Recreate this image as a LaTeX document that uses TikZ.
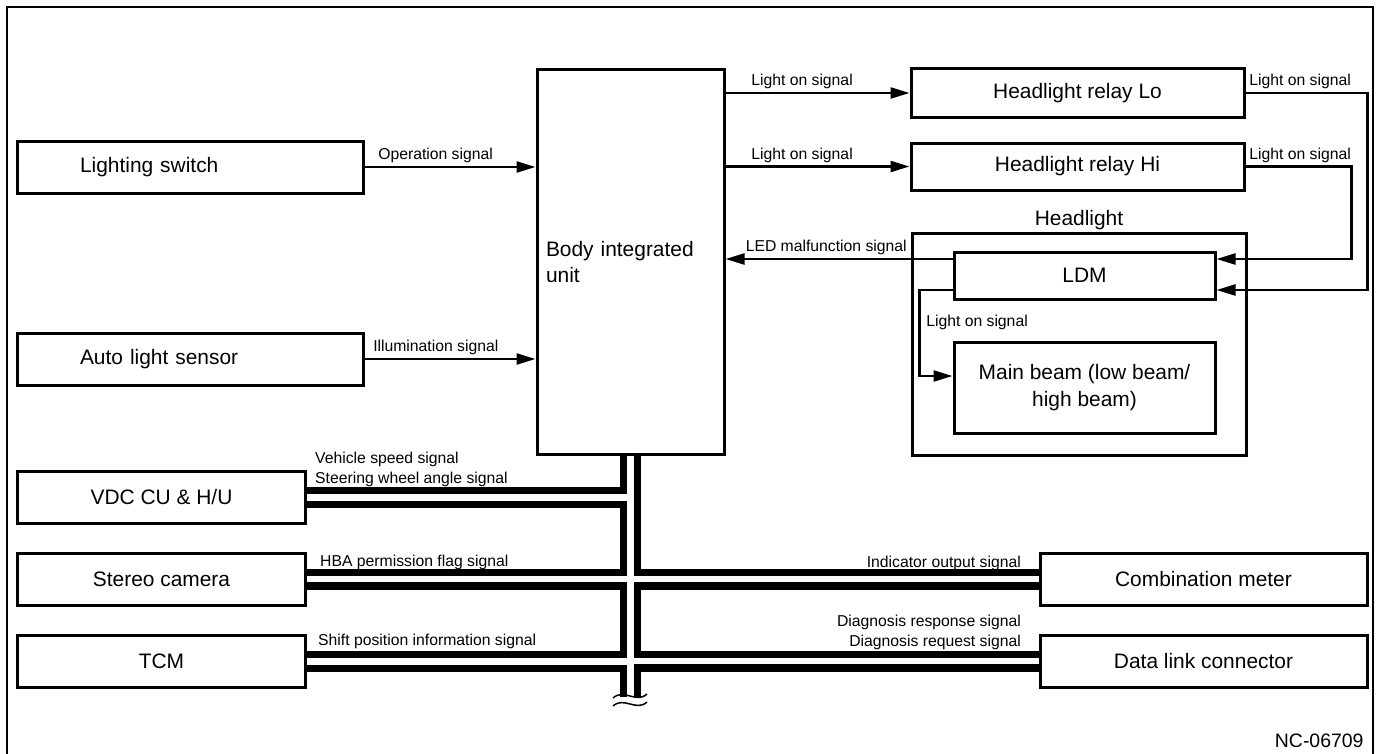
\documentclass[tikz,border=0pt]{standalone}
\usepackage{fontspec}
\setmainfont{Liberation Sans}
\usetikzlibrary{arrows.meta,positioning,calc}

\begin{document}
\begin{tikzpicture}[
  x=1bp, y=-1bp,
  every node/.style={font=\fontsize{21}{27}\selectfont,align=center},
  unit/.style={draw,line width=3bp,inner sep=0pt,minimum width=#1,minimum height=52bp},
  lbl/.style={font=\fontsize{15.8}{19.5}\selectfont,inner sep=2.5bp,align=left},
  sigarr/.style={line width=2.5bp,-{Triangle[length=19bp,width=11bp]}},
  wire/.style={line width=#1,line cap=butt}
]
\useasboundingbox (0,0) rectangle (1378,753);
\draw[line width=1.5bp] (7,7) rectangle (1373,760);

% left side units
\node[unit=345bp,text width=221bp,inner xsep=62bp,align=left] (sw) at (190.5,167) {Lighting switch};
\node[unit=345bp,text width=221bp,inner xsep=62bp,align=left] (als) at (190.5,359) {Auto light sensor};
\node[unit=287bp] (vdc) at (161.5,497.5) {VDC CU \& H/U};
\node[unit=287bp] (cam) at (161.5,579) {Stereo camera};
\node[unit=287bp] (tcm) at (161.5,661.5) {TCM};

% body integrated unit
\node[unit=187bp,minimum height=384bp,text width=169bp,inner xsep=9bp,align=left] (biu) at (630.5,262) {Body integrated\\unit};

% relays and headlight
\node[unit=333bp,minimum height=48bp] (lo) at (1077.5,93) {Headlight relay Lo};
\node[unit=333bp,minimum height=47bp] (hi) at (1077.5,166.5) {Headlight relay Hi};
\node[unit=334bp,minimum height=222bp,label={[inner sep=1bp]above:Headlight}] (hl) at (1079,344) {};
\node[unit=261bp,minimum height=47bp] (ldm) at (1084.5,275.5) {LDM};
\node[unit=261bp,minimum height=91bp] (mb) at (1084.5,387.5) {Main beam (low beam/\\high beam)};

% right side units
\node[unit=327bp] (meter) at (1203.5,579) {Combination meter};
\node[unit=327bp] (dlc) at (1203.5,661) {Data link connector};

\node[anchor=base east,font=\fontsize{19.5}{23}\selectfont] (code) at (1367,747) {NC-06709};

% signal lines
\draw[sigarr] (sw.east) -- node[lbl,pos=0,anchor=south west,xshift=10bp]{Operation signal} (sw.east -| biu.west);
\draw[sigarr] (als.east) -- node[lbl,pos=0,anchor=south west,xshift=5bp]{Illumination signal} (als.east -| biu.west);
\draw[sigarr] (lo.west -| biu.east) -- node[lbl,pos=0,anchor=south west,xshift=22bp]{Light on signal} (lo.west);
\draw[sigarr] (hi.west -| biu.east) -- node[lbl,pos=0,anchor=south west,xshift=22bp]{Light on signal} (hi.west);
\draw[sigarr] (lo.east) -- node[lbl,pos=0,anchor=south west,xshift=0bp]{Light on signal} ++(122,0) |- ([yshift=-14.5bp]ldm.east);
\draw[sigarr] (hi.east) -- node[lbl,pos=0,anchor=south west,xshift=0bp]{Light on signal} ++(106,0) |- ([yshift=16.5bp]ldm.east);

\coordinate (ledout) at ([yshift=16.5bp]ldm.west);
\draw[sigarr] (ledout) -- node[lbl,pos=0,anchor=south east,xshift=-42bp]{LED malfunction signal} (ledout -| biu.east);

\coordinate (beamout) at ([yshift=-14.5bp]ldm.west);
\coordinate (beamin) at ([yshift=11.5bp]mb.west);
\draw[sigarr] (beamout) -- ++(-33,0) |- node[lbl,pos=0.19,anchor=west,xshift=3bp]{Light on signal} (beamin);

% communication bus (double line)
\coordinate (busend) at (630.5,697);
\foreach \w/\c in {21bp/black,6.5bp/white}{
  \draw[wire=\w,\c] (biu.south) -- (busend);
  \draw[wire=\w,\c] (vdc.east) -- (vdc.east -| biu.south);
  \draw[wire=\w,\c] (cam.east) -- (cam.east -| biu.south);
  \draw[wire=\w,\c] (tcm.east) -- (tcm.east -| biu.south);
  \draw[wire=\w,\c] (meter.west) -- (meter.west -| biu.south);
  \draw[wire=\w,\c] (dlc.west) -- (dlc.west -| biu.south);
}
\draw[line width=1.5bp] (613,698) .. controls (624,688) and (636,704) .. (647,694);
\draw[line width=1.5bp] (613,706) .. controls (624,696) and (636,712) .. (647,702);

\node[lbl,anchor=south west] (vdcsig) at ([xshift=6bp,yshift=8.5bp]vdc.east) {Vehicle speed signal\\Steering wheel angle signal};
\node[lbl,anchor=south west] (camsig) at ([xshift=11bp,yshift=7bp]cam.east) {HBA permission flag signal};
\node[lbl,anchor=south west] (tcmsig) at ([xshift=9bp,yshift=10.5bp]tcm.east) {Shift position information signal};
\node[lbl,anchor=south east] (metersig) at ([xshift=-15bp,yshift=6bp]meter.west) {Indicator output signal};
\node[lbl,anchor=south east,align=right] (dlcsig) at ([xshift=-15bp,yshift=9bp]dlc.west) {Diagnosis response signal\\Diagnosis request signal};
\end{tikzpicture}
\end{document}
